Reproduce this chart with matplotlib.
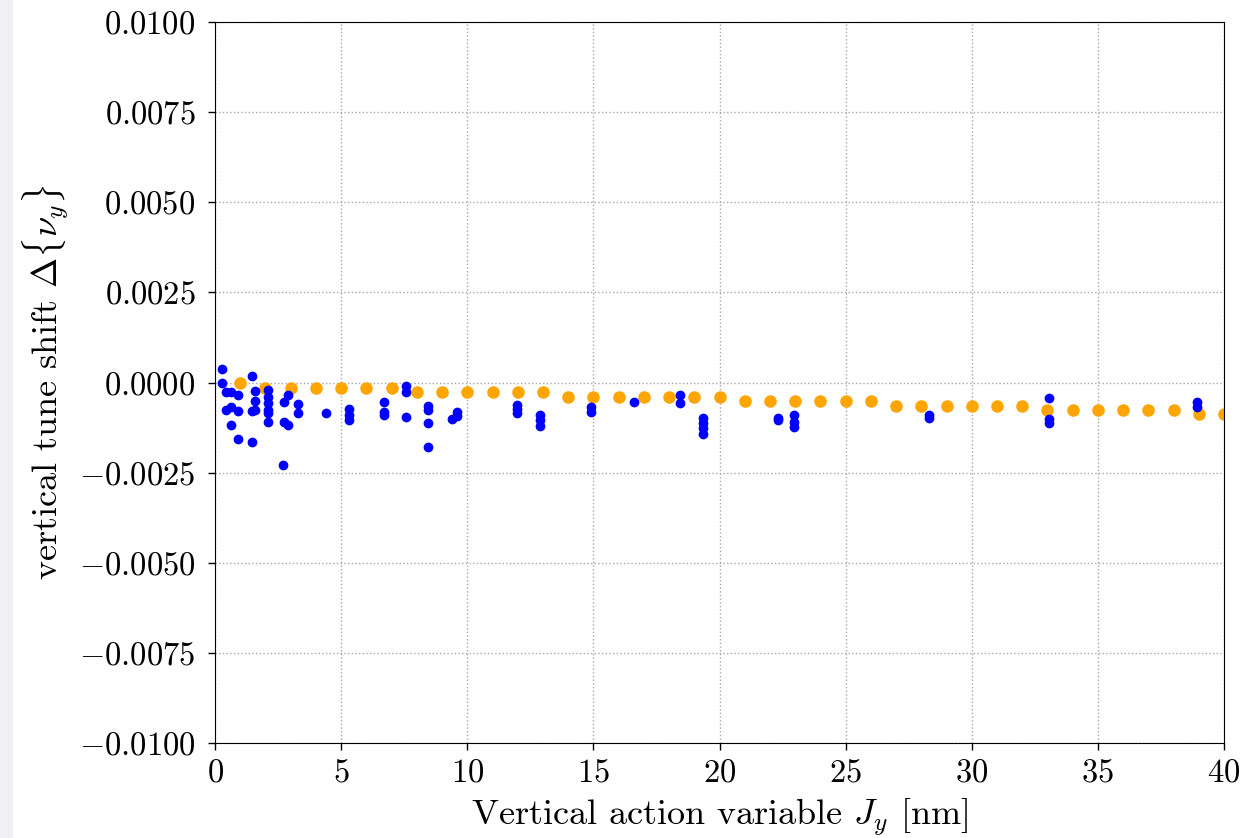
import numpy as np
import matplotlib
matplotlib.use("Agg")
import matplotlib.pyplot as plt
from matplotlib.ticker import FuncFormatter, MultipleLocator
from matplotlib.patches import Rectangle

plt.rcParams["font.family"] = "serif"
plt.rcParams["font.serif"] = ["cmr10"]
plt.rcParams["mathtext.fontset"] = "cm"
plt.rcParams["axes.unicode_minus"] = True

# Tracked particles: action J_y [nm] and measured tune shift
J_track = [0.28, 0.28, 0.43, 0.65, 0.91, 0.43, 0.65, 0.91, 0.65, 0.90,
           1.47, 1.60, 1.60, 1.47, 1.60, 1.47,
           2.10, 2.10, 2.10, 2.10, 2.10, 2.10,
           2.72, 2.90, 2.72, 2.90, 2.70, 3.29, 3.29,
           4.39, 5.32, 5.32, 5.32, 6.70, 6.70, 6.70,
           7.56, 7.56, 7.56, 8.46, 8.46, 8.43, 8.43,
           9.38, 9.60, 9.60, 11.96, 11.96, 11.96, 12.88, 12.88, 12.88,
           14.89, 14.89, 16.61, 18.43, 18.43,
           19.36, 19.36, 19.36, 19.36, 22.33, 22.33, 22.96, 22.96, 22.96,
           28.32, 28.32, 33.06, 33.06, 33.06, 38.92, 38.92]
dQ_track = [0.00037, 0.0, -0.00027, -0.00027, -0.00034, -0.00076, -0.00069, -0.00079, -0.00119, -0.00156,
            0.00018, -0.00024, -0.00050, -0.00078, -0.00076, -0.00165,
            -0.00021, -0.00039, -0.00058, -0.00076, -0.00085, -0.00110,
            -0.00053, -0.00035, -0.00109, -0.00118, -0.00229, -0.00060, -0.00085,
            -0.00085, -0.00074, -0.00090, -0.00104, -0.00055, -0.00082, -0.00090,
            -0.00010, -0.00027, -0.00095, -0.00064, -0.00076, -0.00111, -0.00178,
            -0.00102, -0.00082, -0.00092, -0.00062, -0.00074, -0.00085, -0.00090, -0.00104, -0.00121,
            -0.00069, -0.00081, -0.00053, -0.00035, -0.00056,
            -0.00099, -0.00111, -0.00127, -0.00143, -0.00099, -0.00104, -0.00091, -0.00110, -0.00123,
            -0.00090, -0.00099, -0.00042, -0.00100, -0.00111, -0.00053, -0.00067]

# Analytical detuning curve
J_model = np.arange(1, 41)
dQ_model = ([-0.00002]
            + [-0.00014] * 6
            + [-0.00027] * 6
            + [-0.00039] * 7
            + [-0.00051] * 6
            + [-0.00064] * 6
            + [-0.00076] * 6
            + [-0.00087] * 2)

fig = plt.figure(figsize=(12.51, 8.38), dpi=100)
fig.patches.append(Rectangle((0, 0), 13 / 1251, 1, transform=fig.transFigure,
                             facecolor="#f0f0f3", edgecolor="none", zorder=-1))
ax = fig.add_axes([0.1719, 0.1134, 0.8065, 0.8603])

ax.plot(J_track, dQ_track, "o", color="blue", markersize=6, zorder=3)
ax.plot(J_model, dQ_model, "o", color="orange", markersize=8, zorder=2)

ax.set_xlim(0, 40)
ax.set_ylim(-0.01, 0.01)
ax.xaxis.set_major_locator(MultipleLocator(5))
ax.yaxis.set_major_locator(MultipleLocator(0.0025))
ax.yaxis.set_major_formatter(FuncFormatter(lambda v, p: f"${v:.4f}$"))
ax.xaxis.set_major_formatter(FuncFormatter(lambda v, p: f"${v:.0f}$"))
ax.tick_params(labelsize=23.5, length=5, width=1)
ax.tick_params(axis="y", pad=9)
ax.tick_params(axis="x", pad=6)
ax.grid(True, linestyle=":", color="#a8a8a8", linewidth=1)

ax.set_xlabel(r"Vertical action variable $J_y$ [nm]", fontsize=26, labelpad=7)
ax.set_ylabel(r"vertical tune shift $\Delta\{\nu_y\}$", fontsize=26, labelpad=6)

fig.savefig("out.png", dpi=100)
